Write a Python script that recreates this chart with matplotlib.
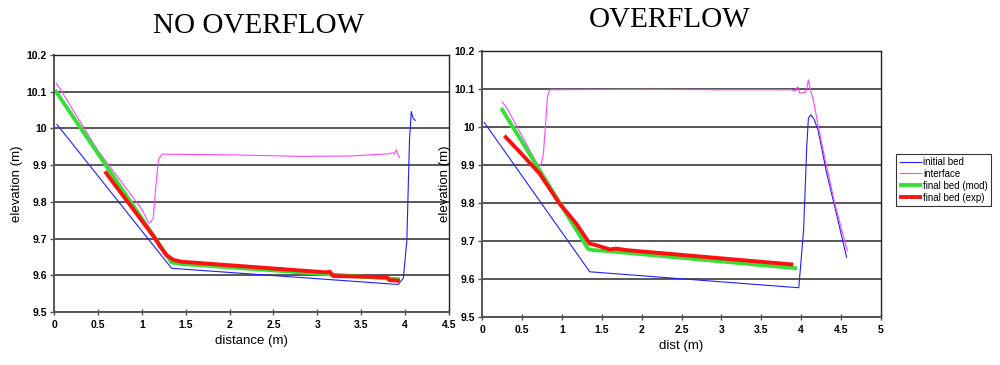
import matplotlib
matplotlib.use("Agg")
import matplotlib.pyplot as plt
from matplotlib.ticker import FuncFormatter, MultipleLocator

# ---- NO OVERFLOW panel data (distance m, elevation m) ----
no_init_x = [0.03, 1.34, 3.92, 3.98, 4.02, 4.05, 4.07, 4.09, 4.12]
no_init_y = [10.012, 9.619, 9.575, 9.592, 9.696, 9.97, 10.046, 10.028, 10.021]

no_intf_x = [0.02, 0.05, 0.5, 1.0, 1.07, 1.09, 1.13, 1.16, 1.19, 1.23, 1.6, 2.04,
             2.8, 3.37, 3.75, 3.82, 3.86, 3.88, 3.9, 3.92, 3.94]
no_intf_y = [10.124, 10.115, 9.94, 9.78, 9.746, 9.742, 9.755, 9.842, 9.915, 9.930,
             9.929, 9.928, 9.924, 9.925, 9.930, 9.931, 9.934, 9.930, 9.942, 9.928, 9.919]

no_mod_x = [0.01, 1.34, 1.45, 3.94]
no_mod_y = [10.105, 9.635, 9.631, 9.589]

no_exp_x = [0.58, 1.15, 1.21, 1.28, 1.36, 1.45, 3.1, 3.14, 3.18, 3.79, 3.82, 3.94]
no_exp_y = [9.883, 9.701, 9.678, 9.655, 9.642, 9.637, 9.608, 9.610, 9.598, 9.595,
            9.587, 9.585]

# ---- OVERFLOW panel data ----
ov_init_x = [0.025, 1.35, 3.97, 4.03, 4.07, 4.09, 4.12, 4.16, 4.21, 4.32, 4.44, 4.57]
ov_init_y = [10.013, 9.619, 9.577, 9.729, 9.949, 10.023, 10.032, 10.021, 9.993,
             9.878, 9.773, 9.656]

ov_intf_x = [0.25, 0.31, 0.70, 0.74, 0.77, 0.80, 0.82, 0.85, 2.0, 3.0, 3.88, 3.92,
             3.94, 3.96, 3.98, 4.05, 4.07, 4.09, 4.11, 4.15, 4.26, 4.42, 4.58]
ov_intf_y = [10.067, 10.050, 9.900, 9.900, 9.931, 10.019, 10.080, 10.098, 10.099,
             10.098, 10.098, 10.094, 10.102, 10.105, 10.089, 10.091, 10.102, 10.124,
             10.102, 10.072, 9.953, 9.799, 9.672]

ov_mod_x = [0.24, 1.33, 1.39, 1.55, 3.95]
ov_mod_y = [10.050, 9.679, 9.676, 9.674, 9.628]

ov_exp_x = [0.28, 0.47, 0.72, 0.97, 1.18, 1.35, 1.43, 1.60, 1.68, 1.81, 3.90]
ov_exp_y = [9.977, 9.935, 9.878, 9.799, 9.746, 9.693, 9.689, 9.678, 9.680, 9.676,
            9.638]

labels = ["initial bed", "interface", "final bed (mod)", "final bed (exp)"]
colors = ["#1f1fff", "#ff44ff", "#33e033", "#ff1010"]
widths = [0.8, 0.8, 2.8, 2.8]

plt.rcParams["font.family"] = ["Liberation Sans", "DejaVu Sans"]

fig = plt.figure(figsize=(10, 3.65), dpi=100)
ax1 = fig.add_axes([0.054, 0.1452, 0.395, 0.704])
ax2 = fig.add_axes([0.482, 0.1315, 0.399, 0.7288])

fmt = FuncFormatter(lambda v, p: f"{v:g}")


def style_axes(ax, xmax, xlabel):
    ax.set_xlim(0, xmax)
    ax.set_ylim(9.5, 10.2)
    ax.xaxis.set_major_locator(MultipleLocator(0.5))
    ax.yaxis.set_major_locator(MultipleLocator(0.1))
    ax.xaxis.set_major_formatter(fmt)
    ax.yaxis.set_major_formatter(fmt)
    ax.tick_params(axis="y", direction="out", length=3, width=1.0, pad=2,
                   labelsize=7.5, color="#505050")
    ax.tick_params(axis="x", direction="inout", length=4, width=1.0, pad=4,
                   labelsize=7.5, color="#505050")
    for t in ax.get_xticklabels() + ax.get_yticklabels():
        t.set_fontweight("bold")
    ax.grid(axis="y", color="#4a4a4a", linewidth=1.3)
    ax.set_axisbelow(True)
    for name, s in ax.spines.items():
        if name in ("left", "bottom"):
            s.set_linewidth(1.4)
            s.set_color("#555555")
        else:
            s.set_linewidth(1.0)
            s.set_color("#222222")
    ax.set_xlabel(xlabel, fontsize=9.5, labelpad=3)
    ax.set_ylabel("elevation (m)", fontsize=9.5, labelpad=3)


series1 = [(no_init_x, no_init_y), (no_intf_x, no_intf_y),
           (no_mod_x, no_mod_y), (no_exp_x, no_exp_y)]
series2 = [(ov_init_x, ov_init_y), (ov_intf_x, ov_intf_y),
           (ov_mod_x, ov_mod_y), (ov_exp_x, ov_exp_y)]

handles = []
for ax, series in ((ax1, series1), (ax2, series2)):
    for (xs, ys), c, w, lab in zip(series, colors, widths, labels):
        ln, = ax.plot(xs, ys, color=c, linewidth=w, label=lab,
                      solid_joinstyle="round", solid_capstyle="butt")
        if ax is ax1:
            handles.append(ln)

style_axes(ax1, 4.5, "distance (m)")
style_axes(ax2, 5, "dist (m)")

fig.text(0.259, 0.930, "NO OVERFLOW", ha="center", va="center",
         family="Liberation Serif", fontsize=21)
fig.text(0.670, 0.944, "OVERFLOW", ha="center", va="center",
         family="Liberation Serif", fontsize=21)

leg = fig.legend(handles, labels, loc="upper left", bbox_to_anchor=(0.896, 0.578),
                 fontsize=7, frameon=True, fancybox=False, handlelength=2.4,
                 handletextpad=0.1, labelspacing=0.2, borderpad=0.3,
                 borderaxespad=0)
leg.get_frame().set_edgecolor("black")
leg.get_frame().set_linewidth(0.8)

fig.savefig("out.png", dpi=100)
